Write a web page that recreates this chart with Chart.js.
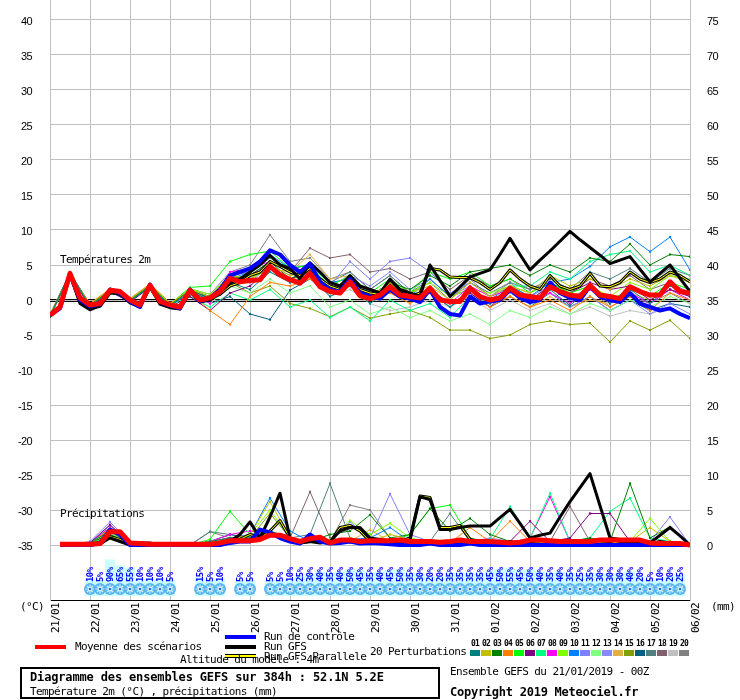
<!DOCTYPE html>
<html lang="fr">
<head>
<meta charset="UTF-8">
<title>Diagramme des ensembles GEFS</title>
<script src="https://cdn.jsdelivr.net/npm/chart.js"></script>
<style>
  body { margin: 0; background: #fff; }
  #wrap {
    position: relative; width: 740px; height: 700px; overflow: hidden;
    font-family: 'DejaVu Sans Mono', monospace; font-size: 11px;
    letter-spacing: -0.6px; color: #000;
  }
  #wrap canvas { position: absolute; left: 0; top: 0; }
  .t { position: absolute; white-space: nowrap; line-height: 12px; }
  .b { font-weight: bold; font-size: 12px; letter-spacing: -0.15px; }
  .ln { position: absolute; width: 31px; height: 4px; }
  #para { background: #ffff00; border-top: 1px solid #000; border-bottom: 1px solid #000; height: 2px; }
  #box { position: absolute; left: 20px; top: 667px; width: 416px; height: 28px; border: 2px solid #000; }
  #swatches { position: absolute; left: 470px; top: 638px; display: flex; }
  .sw { width: 10px; margin-right: 1px; text-align: center; }
  .sw span { display: block; font-size: 8px; font-weight: bold; letter-spacing: -0.8px; line-height: 11px; }
  .sw i { display: block; height: 6px; margin-top: 1px; }
</style>
</head>
<body>
<div id="wrap">
  <canvas id="gefs" width="740" height="700"></canvas>
  <div class="t" style="left:60px;top:254px">Températures 2m</div>
  <div class="t" style="left:60px;top:508px">Précipitations</div>
  <div class="t" style="left:20px;top:601px">(°C)</div>
  <div class="t" style="left:711px;top:601px">(mm)</div>

  <div class="ln" style="left:35px;top:645px;background:#ff0000"></div>
  <div class="t" style="left:75px;top:641px">Moyenne des scénarios</div>
  <div class="ln" style="left:225px;top:635px;background:#0000ff"></div>
  <div class="t" style="left:264px;top:631px">Run de contrôle</div>
  <div class="ln" style="left:225px;top:645px;background:#000"></div>
  <div class="t" style="left:264px;top:641px">Run GFS</div>
  <div class="ln" id="para" style="left:225px;top:654px"></div>
  <div class="t" style="left:264px;top:651px">Run GFS Parallele</div>
  <div class="t" style="left:180px;top:654px">Altitude du modèle : 4m</div>

  <div class="t" style="left:370px;top:646px">20 Perturbations</div>
  <div id="swatches"></div>

  <div id="box"></div>
  <div class="t b" style="left:30px;top:671px">Diagramme des ensembles GEFS sur 384h : 52.1N 5.2E</div>
  <div class="t" style="left:30px;top:686px">Température 2m (°C) , précipitations (mm)</div>
  <div class="t" style="left:450px;top:666px">Ensemble GEFS du 21/01/2019 - 00Z</div>
  <div class="t b" style="left:450px;top:686px;letter-spacing:-0.25px">Copyright 2019 Meteociel.fr</div>
</div>

<script>
// axes
const dateLabels = ['21/01','22/01','23/01','24/01','25/01','26/01','27/01','28/01','29/01',
                    '30/01','31/01','01/02','02/02','03/02','04/02','05/02','06/02'];
const tempTicks = [-35,-30,-25,-20,-15,-10,-5,0,5,10,15,20,25,30,35,40];
const precipTicks = [0,5,10,15,20,25,30,35,40,45,50,55,60,65,70,75];
const hours6 = Array.from({length: 65}, (_, i) => i * 6);
const hours12 = Array.from({length: 33}, (_, i) => i * 12);

// snow probability row (%)
const snowHours = [24,30,36,42,48,54,60,66,72, 90,96,102, 114,120,
  132,138,144,150,156,162,168,174,180,186,192,198,204,210,216,222,228,234,240,246,
  252,258,264,270,276,282,288,294,300,306,312,318,324,330,336,342,348,354,360,366,372,378];
const snowPct = [10,5,90,65,55,10,10,10,5, 15,5,10, 5,5,
  5,5,10,25,30,40,35,40,50,45, 35,40,45,50,35,30,20,20,35,35,
  35,35,45,50,55,45,50,40,35,40, 35,25,35,30,30,30,40,20,5,10, 20,25];

// 6-hourly runs, temperature (°C)
const meanTemp = [-2.2,-1.0,3.8,0.3,-0.7,-0.5,1.4,1.2, 0.0,-0.7,2.1,-0.2,-0.7,-1.0,1.4,0.0,
  0.3,1.2,3.1,2.6,2.8,2.9,4.8,3.6, 2.9,2.4,3.8,1.9,1.2,1.0,2.6,0.6,
  0.2,0.7,1.9,0.7,0.5,0.3,1.7,0.0, -0.2,-0.2,1.7,0.5,0.0,0.3,1.7,0.7,
  0.5,0.3,1.9,1.2,0.7,0.5,2.1,0.7, 0.5,0.2,1.9,1.2,0.7,0.7,2.6,1.2, 1.0];
const controlTemp = [-2.2,-1.2,3.7,0.0,-0.9,-0.6,1.5,1.0, -0.2,-1.0,2.2,-0.3,-0.8,-1.2,1.5,-0.2,
  0.3,1.5,3.5,4.0,4.5,5.5,7.1,6.5, 5.0,4.0,5.2,2.6,1.5,1.2,3.0,1.0,
  0.5,0.2,1.5,0.5,0.2,-0.3,1.5,-1.0, -2.0,-2.2,0.5,-0.5,-0.2,0.0,1.5,0.3,
  -0.3,0.0,2.5,1.0,0.3,0.0,2.0,0.5, 0.0,-0.3,1.0,-0.5,-1.0,-1.5,-1.2,-2.0, -2.6];
const gfsTemp = [-2.0,-1.0,3.6,-0.5,-1.4,-0.8,1.2,0.8, -0.3,-0.9,2.0,-0.5,-1.0,-1.2,1.2,-0.3,
  0.0,1.0,2.5,3.0,4.0,5.0,6.4,5.0, 4.5,3.0,5.3,4.0,2.5,2.0,3.5,2.0,
  1.5,1.0,3.0,1.5,1.0,0.5,5.0,2.8, 0.5,1.9,3.3,3.8,4.3,6.5,8.8,6.5,
  4.3,5.7,7.0,8.4,9.8,8.6,7.5,6.4, 5.2,5.7,6.2,4.4,2.6,3.8,5.0,3.1, 1.2];
const paraTemp = [-2.1,-1.1,3.7,-0.3,-1.2,-0.9,1.0,0.9, -0.4,-1.0,1.9,-0.6,-1.1,-1.3,1.3,-0.2,
  0.2,0.8,2.0,2.5,3.5,4.0,5.5,4.8, 4.0,3.5,4.5,3.0,2.0,1.5,3.0,1.5,
  1.0,0.8,2.5,1.0,0.5,1.0,4.5,4.3, 3.3,3.2,3.2,2.5,1.5,2.5,4.3,3.0,
  2.0,1.5,3.5,2.0,1.5,2.0,3.8,2.0, 1.9,2.5,4.0,3.0,2.5,3.0,4.0,3.5, 2.6];

// 6-hourly runs, precipitation (mm)
const meanPrecip = [null,0.1,0.1,0.1,0.1,0.2,1.9,1.9, 0.3,0.2,0.1,0.1,0.1,0.1,0.1,0.1,
  0.1,0.3,0.6,0.6,0.6,0.8,1.4,1.4, 0.9,0.5,0.9,1.1,0.3,0.7,0.7,0.5,
  0.6,0.6,0.6,0.7,0.5,0.5,0.5,0.4, 0.5,0.7,0.5,0.5,0.5,0.4,0.3,0.4,
  0.7,0.7,0.6,0.5,0.5,0.5,0.5,0.7, 0.7,0.7,0.7,0.7,0.3,0.2,0.2,0.2, 0];
const controlPrecip = [null,0,0,0,0,0.3,2.2,1.5, 0,0,0,0,0,0,0,0,
  0,0,0.3,0.5,0.5,2.2,1.8,1.0, 0.5,0.2,1.5,0.5,0.2,0.3,0.5,0.2,
  0.3,0.2,0.1,0,0,0,0.2,0, 0,0,0.2,0,0,0,0,0,
  0,0,0,0,0,0,0,0, 0,0,0,0,0,0,0,0, 0];
const gfsPrecip = [null,0,0,0,0,0.2,1.0,0.5, 0,0.3,0.3,0,0,0,0,0,
  0,0,0.5,1.5,3.3,1.0,4.0,7.4, 1.0,0.3,0.5,0.3,0.5,2.0,2.5,2.5,
  1.0,0.8,0.5,0.5,0.7,6.9,6.5,2.2, 2.2,2.5,2.7,2.7,2.7,3.9,5.1,3.1,
  1.0,1.4,1.7,4.0,6.2,8.2,10.2,5.6, 1.0,0.8,0.5,0.4,0.3,1.4,2.5,1.3, 0];
const paraPrecip = [null,0,0,0,0,0.1,1.2,0.8, 0,0.2,0.2,0,0,0,0,0,
  0,0,0.3,0.8,1.5,1.0,2.0,3.5, 1.0,0.3,0.5,0.5,0.3,2.5,2.8,2.0,
  0.5,0.3,0.3,0.5,1.0,7.0,6.8,2.5, 2.5,2.8,0.8,0.5,0.5,0.3,0.5,0.2,
  0.2,0.3,0.5,0.3,0.5,0.3,0.5,0.3, 0.2,0.5,0.5,0.3,0.2,0.5,0.3,0.2, 0];

// 20 perturbations, 12-hourly, temperature (°C)
const temp01 = [-2.3,3.9,-0.9,1.3,-0.2,2.0,-0.9,1.2, 0.0,2.5,1.5,4.0,2.5,3.5,0.5,2.0, -0.5,1.5,0.0,1.0,-1.0,1.5,-0.5,1.2, -0.5,1.5,-0.8,1.8,-0.5,1.5,-0.5,2.0, 0.8];
const temp02 = [-2.0,3.7,-0.6,1.5,0.1,2.2,-0.5,1.5, 0.5,3.5,3.0,5.0,3.5,4.0,1.5,3.0, 0.5,2.5,1.0,2.0,0.0,2.5,0.5,2.0, 1.0,3.5,2.0,3.0,1.5,3.0,2.0,3.5, 2.5];
const temp03 = [-2.2,3.8,-0.7,1.4,0.0,2.1,-0.8,1.5, 0.2,3.0,3.5,5.5,3.0,4.5,1.5,3.0, 0.5,2.5,1.5,3.5,2.0,4.0,4.5,5.0, 3.5,5.0,4.0,6.0,5.5,8.0,5.0,6.5, 6.2];
const temp04 = [-2.1,3.6,-0.5,1.6,0.2,2.3,-0.4,1.0, -1.5,-3.5,0.5,2.5,2.0,3.0,1.0,2.0, 0.0,1.0,-0.5,1.0,-0.5,0.5,-1.0,0.5, -1.0,0.0,-1.5,0.5,-1.0,0.5,-1.5,1.0, 0.0];
const temp05 = [-2.3,3.7,-0.8,1.3,-0.1,2.0,-0.6,1.8, 2.0,5.5,6.5,7.0,4.5,5.0,2.0,3.5, 1.0,3.0,1.0,4.0,3.0,4.0,2.0,3.0, 1.0,2.5,1.0,2.0,0.0,1.5,0.5,2.5, 1.5];
const temp06 = [-2.4,3.5,-1.0,1.2,-0.3,1.8,-1.0,0.5, -1.5,1.0,2.0,4.5,3.0,4.0,1.0,2.5, 0.0,2.0,0.5,1.5,-0.5,1.0,-1.0,1.5, 0.0,2.0,1.0,2.5,1.5,2.0,0.0,1.5, 0.5];
const temp07 = [-2.2,3.9,-0.7,1.4,0.0,2.2,-0.7,0.5, -1.0,1.0,0.0,1.5,-1.0,0.0,-2.5,-1.0, -3.0,0.0,-1.5,-0.5,-2.5,0.5,-0.5,2.0, 2.0,4.0,3.0,5.5,6.5,7.0,4.0,5.0, 3.5];
const temp08 = [-2.1,3.8,-0.6,1.5,0.0,2.0,-0.9,1.0, -0.5,4.0,4.5,5.5,4.0,4.5,1.5,3.0, 0.0,2.5,0.5,1.5,-0.5,2.0,0.5,1.5, 0.0,1.0,-0.5,1.5,-0.5,1.0,-0.5,1.5, 0.0];
const temp09 = [-2.2,3.8,-0.7,1.4,0.0,2.1,-0.7,1.6, 0.8,3.5,3.0,4.5,3.0,3.5,1.5,2.5, 0.5,2.0,1.0,2.5,0.5,1.5,1.0,2.0, 1.0,2.5,1.0,2.0,0.5,2.5,1.5,3.5, 3.0];
const temp10 = [-2.3,3.7,-0.8,1.3,-0.1,2.0,-0.8,1.2, 0.5,3.0,4.0,6.5,4.5,5.0,2.5,3.0, 0.5,2.5,0.5,3.0,0.5,1.5,0.0,2.0, 0.5,2.5,3.0,4.8,7.6,9.0,6.9,9.0, 4.3];
const temp11 = [-2.2,3.8,-0.7,1.4,0.0,2.1,-0.7,1.3, 0.0,2.5,2.5,5.0,3.5,4.5,2.0,5.5, 3.0,5.5,6.0,4.0,1.0,2.5,0.5,2.0, 0.5,2.0,0.0,1.5,0.0,1.0,-0.5,1.5, 0.5];
const temp12 = [-2.2,3.8,-0.7,1.4,0.0,2.1,-0.7,1.0, -0.5,2.0,1.0,3.0,1.0,2.0,-1.0,0.0, -2.0,-1.0,-2.5,-1.5,-3.0,-2.0,-3.5,-1.5, -2.5,-1.0,-2.0,-0.5,-1.5,0.0,-1.0,0.5, -0.5];
const temp13 = [-2.1,3.9,-0.6,1.5,0.1,2.2,-0.6,1.4, 0.3,3.0,3.5,5.0,3.0,4.0,2.0,3.5, 2.0,4.0,1.5,3.0,0.5,2.0,-0.5,1.0, -0.5,1.0,-1.0,0.5,-1.5,0.0,-2.0,-0.5, -2.0];
const temp14 = [-2.2,3.7,-0.7,1.4,0.0,2.0,-0.7,1.2, 0.0,2.5,3.0,4.5,4.0,6.5,3.0,3.5, 1.0,2.0,0.0,1.0,-0.5,1.0,-0.5,0.5, -1.0,0.5,-1.0,0.0,-0.5,1.0,0.0,1.5, 0.5];
const temp15 = [-2.2,3.8,-0.7,1.4,0.0,2.0,-0.8,1.3, 0.0,2.5,1.0,2.0,-0.5,-1.2,-2.4,-1.0, -2.6,-2.0,-1.5,-2.5,-4.3,-4.3,-5.5,-5.0, -3.5,-3.0,-3.5,-3.3,-6.0,-3.0,-4.3,-2.9, -5.5];
const temp16 = [-2.3,3.6,-0.9,1.2,-0.2,1.9,-0.8,1.2, -0.5,0.5,-2.0,-2.8,1.4,3.0,1.0,2.0, 0.0,1.5,0.0,1.0,-1.0,1.0,-1.0,0.5, -1.0,1.0,-1.0,0.5,-1.5,0.0,-1.5,-0.5, -1.0];
const temp17 = [-2.2,3.8,-0.7,1.4,0.0,2.1,-0.7,1.5, 0.5,3.5,4.0,6.0,4.5,5.0,2.5,4.0, 1.5,3.5,1.0,3.0,0.5,2.5,1.0,2.5, 1.5,3.0,1.5,4.0,3.0,4.5,2.5,4.5, 3.5];
const temp18 = [-2.2,3.8,-0.7,1.4,0.0,2.1,-0.7,1.4, 0.2,3.0,3.5,5.5,4.0,7.4,6.0,6.5, 4.0,4.5,3.0,4.0,1.5,3.5,2.0,3.0, 1.5,2.5,1.0,3.0,2.0,3.5,1.5,2.5, 1.0];
const temp19 = [-2.2,3.8,-0.7,1.4,0.0,2.1,-0.7,1.3, 0.0,2.5,2.5,4.0,2.5,3.0,0.5,1.5, -0.5,-1.5,-1.0,0.0,-1.0,0.5,-1.5,0.0, -1.5,-0.5,-2.0,-1.0,-2.3,-1.5,-2.0,-1.0, -2.5];
const temp20 = [-2.2,3.8,-0.7,1.4,0.0,2.1,-0.7,1.6, 0.8,4.0,5.0,9.3,5.5,6.0,3.0,4.0, 1.5,3.5,1.0,2.5,0.0,3.0,0.5,2.5, 0.0,2.0,0.5,1.5,-1.0,0.5,-0.5,1.0, -0.5];

// 20 perturbations, 12-hourly, precipitation (mm)
const prec01 = [null,0,0.3,2.0,0.2,0,0,0, 0.5,1.0,0.5,1.5,0.5,1.0,0.3,0.5, 0.5,0.3,0.5,0.3,0.5,0.3,0.2,0.5, 0.3,0.3,0.5,0.2,0.3,0.5,0.2,0.3, 0];
const prec02 = [null,0,0.2,2.2,0.1,0,0,0, 0.5,0.8,1.5,6.2,1.0,0.5,0.5,1.0, 0.5,1.5,0.8,0.5,0.3,0.5,0.2,0.3, 0.5,0.5,0.3,0.5,0.3,0.5,2.5,0.5, 0];
const prec03 = [null,0,0.3,1.5,0.2,0,0,0, 0.3,0.5,1.0,2.0,0.8,0.5,1.5,2.0, 4.3,1.0,1.5,5.2,2.0,3.8,1.5,0.5, 0.3,0.5,0.5,1.0,0.5,8.8,1.0,2.6, 0];
const prec04 = [null,0,0.2,2.4,0.3,0,0,0, 0.5,1.0,0.8,1.5,0.5,1.0,0.5,0.3, 0.5,0.5,0.3,0.5,0.3,2.5,0.5,3.4, 0.5,0.3,0.5,0.3,0.5,0.2,0.5,0.3, 0];
const prec05 = [null,0,0.2,1.2,0.3,0,0,0, 0.8,4.8,1.5,2.0,1.0,0.5,0.5,1.0, 0.3,0.5,1.5,5.2,5.7,1.0,0.3,0.5, 0.5,0.5,0.5,0.3,0.5,0.5,0.3,0.5, 0];
const prec06 = [null,0,0.3,2.9,0.3,0,0,0, 0.5,1.0,0.8,1.5,0.5,0.8,0.5,0.5, 0.5,0.3,0.5,0.3,0.5,0.3,0.5,0.5, 3.4,0.5,1.0,4.5,4.5,0.5,0.3,0.5, 0];
const prec07 = [null,0,0.2,1.0,0.2,0,0,0, 0.3,0.8,1.0,1.5,0.5,0.5,0.3,0.5, 0.3,0.5,0.5,0.5,0.5,0.5,0.8,5.5, 1.0,7.4,0.5,1.0,4.8,6.7,1.0,0.5, 0];
const prec08 = [null,0,0.3,2.5,0.3,0,0,0, 0.5,1.5,2.0,1.5,0.8,0.5,0.3,0.5, 0.3,0.5,0.3,0.5,0.3,0.5,0.5,0.3, 1.0,6.9,0.5,0.5,0.3,0.5,0.3,0.5, 0];
const prec09 = [null,0,0.2,1.8,0.2,0,0,0, 0.3,0.5,1.5,5.0,1.0,0.5,0.8,3.5, 1.5,3.1,1.0,0.5,0.5,0.5,0.3,0.5, 0.5,0.5,0.5,0.3,0.5,0.5,3.8,0.5, 0];
const prec10 = [null,0,0.3,2.5,0.2,0,0,0, 0.5,1.0,1.5,6.7,2.0,0.5,0.5,0.8, 1.0,2.5,0.5,0.5,0.5,0.3,0.5,0.3, 0.5,0.3,0.5,0.8,0.5,0.3,0.5,0.3, 0];
const prec11 = [null,0,0.5,3.3,0.3,0,0,0, 0.3,0.8,1.0,1.5,0.5,0.8,0.5,3.3, 1.0,7.3,1.5,0.5,0.5,0.3,0.5,0.3, 0.5,0.3,0.5,0.5,0.3,0.5,0.5,4.0, 0];
const prec12 = [null,0,0.2,1.5,0.2,0,0,0, 0.5,0.8,1.2,2.0,0.8,0.5,0.5,0.5, 0.5,0.5,0.3,0.5,0.3,0.5,0.3,0.5, 0.3,0.5,0.3,0.5,0.3,0.5,0.3,0.5, 0];
const prec13 = [null,0,0.3,2.8,0.3,0,0,0, 0.3,0.5,1.0,1.5,0.8,0.5,0.3,0.5, 0.5,0.5,0.8,0.5,0.3,0.5,1.0,0.5, 0.3,0.5,0.3,0.5,0.5,0.3,0.5,0.3, 0];
const prec14 = [null,0,0.4,2.3,0.3,0,0,0, 0.5,1.0,1.5,2.0,1.0,0.5,0.5,0.5, 2.2,0.5,0.3,0.2,0.3,0.2,0.4,0.2, 0.3,0.2,0.4,0.2,0.3,0.2,0.3,0.2, 0];
const prec15 = [null,0,0.2,1.5,0.2,0,0,0, 0.3,0.8,1.0,4.5,1.0,0.5,0.3,0.5, 0.3,0.5,0.3,0.3,0.3,0.3,0.3,0.3, 0.3,0.3,0.3,0.3,0.3,0.3,0.3,0.3, 0];
const prec16 = [null,0,0.2,1.8,0.3,0,0,0, 0.5,1.5,1.0,2.0,1.0,0.5,0.3,0.5, 0.3,0.5,0.3,0.5,0.3,0.5,0.5,0.3, 0.5,0.3,0.5,0.3,0.5,0.3,0.5,0.3, 0];
const prec17 = [null,0,0.3,2.0,0.3,0,0,0, 1.9,1.5,1.0,1.5,1.0,1.5,8.8,1.0, 0.5,0.5,0.5,0.5,4.5,0.5,0.5,0.5, 0.5,0.3,0.5,0.3,0.5,0.3,0.5,0.3, 0];
const prec18 = [null,0,0.3,2.2,0.3,0,0,0, 0.5,1.0,1.0,1.5,1.0,7.6,1.0,0.5, 0.5,0.5,0.5,0.5,0.5,0.5,0.5,0.5, 0.5,0.5,5.5,0.5,0.3,0.5,0.3,0.5, 0];
const prec19 = [null,0,0.2,1.5,0.2,0,0,0, 0.5,0.8,1.0,1.5,0.5,0.5,0.5,0.5, 0.2,0.4,0.1,0.3,0.5,0.1,0.3,0.2, 0.4,0.1,0.3,0.2,0.5,0.2,0.3,0.1, 0];
const prec20 = [null,0,0.3,2.4,0.3,0,0,0, 1.9,1.0,1.0,1.5,1.0,0.5,0.5,5.7, 5.0,1.0,0.5,0.3,0.5,0.2,0.4,0.3, 0.2,0.5,0.3,0.2,0.4,0.3,0.2,0.4, 0];

const memberNames = ['01','02','03','04','05','06','07','08','09','10',
                     '11','12','13','14','15','16','17','18','19','20'];
const memberColors = ['#008080','#c0c000','#008000','#ff8000','#00ff00','#800080','#00ff80','#ff00ff','#80ff00','#0080ff',
                      '#8080ff','#80ff80','#8888ff','#e0b040','#80a000','#006080','#508080','#806070','#c0c0c0','#808080'];
const memberTemps = [temp01,temp02,temp03,temp04,temp05,temp06,temp07,temp08,temp09,temp10,
                     temp11,temp12,temp13,temp14,temp15,temp16,temp17,temp18,temp19,temp20];
const memberPrecips = [prec01,prec02,prec03,prec04,prec05,prec06,prec07,prec08,prec09,prec10,
                       prec11,prec12,prec13,prec14,prec15,prec16,prec17,prec18,prec19,prec20];

// legend swatches
const sw = document.getElementById('swatches');
memberNames.forEach((n, i) => {
  sw.insertAdjacentHTML('beforeend', `<div class="sw"><span>${n}</span><i style="background:${memberColors[i]}"></i></div>`);
});

function pts(hours, vals) {
  return vals.map((v, i) => ({x: hours[i], y: v}));
}

const datasets = [];
function thick(data, axis, color, width, order) {
  datasets.push({data, yAxisID: axis, borderColor: color, borderWidth: width,
                 pointRadius: 0, order, borderJoinStyle: 'round'});
}
thick(pts(hours6, meanTemp), 'y', '#ff0000', 5, 1);
thick(pts(hours6, controlTemp), 'y', '#0000ff', 4, 2);
thick(pts(hours6, gfsTemp), 'y', '#000000', 3, 3);
thick(pts(hours6, paraTemp), 'y', '#ffff00', 1, 4);
thick(pts(hours6, paraTemp), 'y', '#000000', 3, 5);
thick(pts(hours6, meanPrecip), 'yP', '#ff0000', 5, 1);
thick(pts(hours6, controlPrecip), 'yP', '#0000ff', 4, 2);
thick(pts(hours6, gfsPrecip), 'yP', '#000000', 3, 3);
thick(pts(hours6, paraPrecip), 'yP', '#ffff00', 1, 4);
thick(pts(hours6, paraPrecip), 'yP', '#000000', 3, 5);

memberColors.forEach((c, i) => {
  [[memberTemps[i], 'y'], [memberPrecips[i], 'yP']].forEach(([vals, axis]) => {
    datasets.push({data: pts(hours12, vals), yAxisID: axis, borderColor: c, borderWidth: 1,
                   pointRadius: 1.5, pointStyle: 'rect', pointBorderWidth: 0,
                   pointBackgroundColor: c, order: 10});
  });
});

// double black line at 0 °C
const zeroLine = {
  id: 'zeroLine',
  beforeDatasetsDraw(chart) {
    const {ctx, chartArea, scales} = chart;
    const y0 = Math.round(scales.y.getPixelForValue(0));
    ctx.save();
    ctx.strokeStyle = '#000';
    ctx.lineWidth = 1;
    ctx.beginPath();
    ctx.moveTo(chartArea.left, y0 - 0.5); ctx.lineTo(chartArea.right, y0 - 0.5);
    ctx.moveTo(chartArea.left, y0 + 1.5); ctx.lineTo(chartArea.right, y0 + 1.5);
    ctx.stroke();
    ctx.restore();
  }
};

// snow probability band along the bottom of the plot
const snowRow = {
  id: 'snowRow',
  beforeDatasetsDraw(chart) {
    const {ctx, chartArea, scales} = chart;
    const base = chartArea.bottom;
    ctx.save();
    snowHours.forEach((h, i) => {
      const px = Math.round(scales.x.getPixelForValue(h));
      const top = base - 19 - snowPct[i] * 0.24;
      ctx.fillStyle = '#ccffff';
      ctx.fillRect(px - 5, top, 10, base - 4 - top);
    });
    snowHours.forEach((h) => {
      const px = Math.round(scales.x.getPixelForValue(h));
      const cy = base - 11;
      ctx.fillStyle = '#58b4ee';
      ctx.beginPath(); ctx.arc(px, cy, 6, 0, Math.PI * 2); ctx.fill();
      ctx.strokeStyle = '#d8f4ff';
      ctx.lineWidth = 1.2;
      ctx.beginPath();
      ctx.moveTo(px - 4.5, cy); ctx.lineTo(px + 4.5, cy);
      ctx.moveTo(px, cy - 4.5); ctx.lineTo(px, cy + 4.5);
      ctx.moveTo(px - 3, cy - 3); ctx.lineTo(px + 3, cy + 3);
      ctx.moveTo(px + 3, cy - 3); ctx.lineTo(px - 3, cy + 3);
      ctx.stroke();
      ctx.fillStyle = '#1f6fc8';
      ctx.fillRect(px - 1, cy - 1, 2, 2);
    });
    ctx.fillStyle = '#0000ff';
    ctx.font = 'bold 9px "DejaVu Sans Mono"';
    ctx.textAlign = 'left';
    ctx.textBaseline = 'alphabetic';
    snowHours.forEach((h, i) => {
      const px = Math.round(scales.x.getPixelForValue(h));
      ctx.save();
      ctx.translate(px + 3, base - 18);
      ctx.rotate(-Math.PI / 2);
      ctx.fillText(snowPct[i] + '%', 0, 0);
      ctx.restore();
    });
    ctx.restore();
  }
};

const tickFont = {family: 'Liberation Sans', size: 11};

new Chart(document.getElementById('gefs'), {
  type: 'line',
  data: {datasets},
  plugins: [zeroLine, snowRow],
  options: {
    responsive: false,
    animation: false,
    layout: {padding: 0, autoPadding: false},
    elements: {line: {tension: 0}},
    plugins: {legend: {display: false}, tooltip: {enabled: false}},
    scales: {
      x: {
        type: 'linear', min: 0, max: 384,
        afterBuildTicks: ax => { ax.ticks = dateLabels.map((d, i) => ({value: i * 24})); },
        afterFit: ax => { ax.height = 100; ax.paddingLeft = 0; ax.paddingRight = 0; },
        ticks: {
          callback: v => dateLabels[Math.round(v / 24)],
          autoSkip: false, minRotation: 90, maxRotation: 90,
          padding: 3, labelOffset: 6, color: '#000',
          font: {family: 'DejaVu Sans Mono', size: 11}
        },
        grid: {color: '#c0c0c0', drawTicks: false},
        border: {color: '#000'}
      },
      y: {
        position: 'left', min: -300 / 7, max: 300 / 7,
        afterBuildTicks: ax => { ax.ticks = tempTicks.map(v => ({value: v})); },
        afterFit: ax => { ax.width = 50; ax.paddingTop = 0; ax.paddingBottom = 0; },
        ticks: {padding: 18, labelOffset: 2, color: '#000', font: tickFont},
        grid: {color: '#c0c0c0', drawTicks: false},
        border: {color: '#c0c0c0'}
      },
      yP: {
        position: 'right', min: 35 - 300 / 7, max: 35 + 300 / 7,
        afterBuildTicks: ax => { ax.ticks = precipTicks.map(v => ({value: v})); },
        afterFit: ax => { ax.width = 50; ax.paddingTop = 0; ax.paddingBottom = 0; },
        ticks: {padding: 17, labelOffset: 2, color: '#000', font: tickFont},
        grid: {display: false, drawTicks: false},
        border: {color: '#c0c0c0'}
      }
    }
  }
});
</script>
</body>
</html>
